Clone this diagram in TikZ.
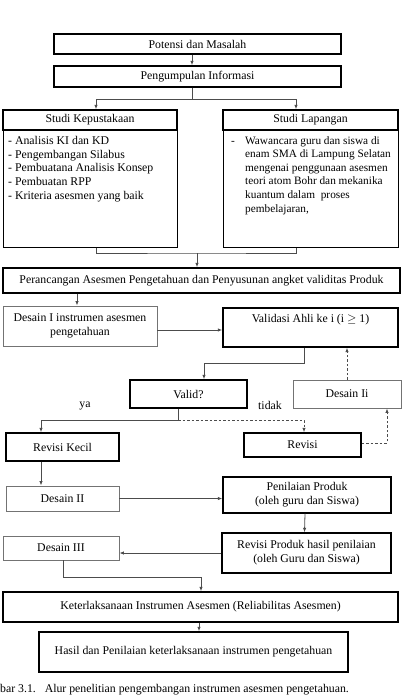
\documentclass[tikz,border=0pt]{standalone}
\usepackage{fontspec}
\setmainfont{Liberation Serif}
\usetikzlibrary{arrows.meta}
\begin{document}
\begin{tikzpicture}[x=1pt,y=-1pt,
  every node/.style={font=\fontsize{11.8}{13.8}\selectfont, inner sep=0pt},
  bx/.style={draw=black, line width=1.4pt, minimum width=#1, align=center},
  gbx/.style={draw=black!55, line width=0.9pt, minimum width=#1, align=center},
  ln/.style={draw=black!70, line width=0.8pt},
  arr/.style={ln, -{Latex[length=4.5pt,width=3.5pt]}},
  darr/.style={arr, dashed, dash pattern=on 2.5pt off 2pt},
]
\useasboundingbox (0,0) rectangle (403,696);
% boxes
\node[bx=287pt, minimum height=20pt] (pot) at (197.5,44) {Potensi dan Masalah};
\node[bx=287pt, minimum height=21pt] (peng) at (197.5,76.5) {Pengumpulan Informasi};
\node[bx=174pt, minimum height=20pt] (kepH) at (90,120) {Studi Kepustakaan};
\node[draw=black, line width=1pt, minimum width=174pt, minimum height=117pt] (kepB) at (90,188.5) {};
\node[bx=175pt, minimum height=20pt] (lapH) at (310.5,120) {Studi Lapangan};
\node[draw=black, line width=1pt, minimum width=175pt, minimum height=117pt] (lapB) at (310.5,188.5) {};
\node[anchor=north west, align=left] (kepT) at (8,136) {- Analisis KI dan KD\\- Pengembangan Silabus\\- Pembuatana Analisis Konsep\\- Pembuatan RPP\\- Kriteria asesmen yang baik};
\node[anchor=north west, font=\fontsize{11.3}{13.6}\selectfont] (lapD) at (231,136) {\vphantom{Wd}-};
\node[anchor=north west, align=left, font=\fontsize{11.3}{13.6}\selectfont] (lapT) at (245,136) {Wawancara guru dan siswa di\\enam SMA di Lampung Selatan\\mengenai penggunaan asesmen\\teori atom Bohr dan mekanika\\kuantum dalam\ \ proses\\pembelajaran,};
\node[bx=397pt, minimum height=25pt] (peran) at (201.5,280.5) {Perancangan Asesmen Pengetahuan dan Penyusunan angket validitas Produk};
\node[gbx=154pt, minimum height=40pt] (des1) at (80,326) {Desain I instrumen asesmen\\pengetahuan};
\node[bx=175pt, minimum height=39pt] (valA) at (310.5,327.5) {};
\node (valAT) at (310.5,320) {Validasi Ahli ke i (i $\geq$ 1)};
\node[bx=117pt, minimum height=28pt] (valQ) at (188.5,394) {Valid?};
\node[gbx=108pt, minimum height=28pt] (desIi) at (347,394) {Desain Ii};
\node (ya) at (85,406) {ya};
\node (tidak) at (270,405) {tidak};
\node[bx=113pt, minimum height=28pt] (revK) at (62.5,447) {Revisi Kecil};
\node[bx=117pt, minimum height=24pt] (rev) at (302.5,445) {Revisi};
\node[gbx=113pt, minimum height=25pt] (des2) at (62.5,498.5) {Desain II};
\node[bx=168pt, minimum height=36pt] (pen) at (307,495) {Penilaian Produk\\(oleh guru dan Siswa)};
\node[bx=169pt, minimum height=40pt] (revP) at (306.5,553) {Revisi Produk hasil penilaian\\(oleh Guru dan Siswa)};
\node[gbx=116pt, minimum height=24pt] (des3) at (61,548) {Desain III};
\node[bx=395pt, minimum height=30pt] (ket) at (200.5,607) {Keterlaksanaan Instrumen Asesmen (Reliabilitas Asesmen)};
\node[bx=309pt, minimum height=40pt] (has) at (193.5,652) {Hasil dan Penilaian keterlaksanaan instrumen pengetahuan};
\node[anchor=base west] (cap) at (0,692) {bar 3.1.\ \ \ Alur penelitian pengembangan instrumen asesmen pengetahuan.};
% connectors
\draw[arr] ([xshift=-5.5pt]pot.south) -- ([xshift=-5.5pt]peng.north);
\coordinate (j1) at (192,99);
\draw[ln] (peng.south -| j1) -- (j1);
\draw[arr] (j1) -| ([xshift=6pt]kepH.north);
\draw[arr] (j1) -| ([xshift=-14.5pt]lapH.north);
\coordinate (j2) at (197,253);
\draw[ln] ([xshift=6pt]kepB.south) |- (j2) -| ([xshift=-14.5pt]lapB.south);
\draw[arr] (j2) -- (j2 |- peran.north);
\coordinate (j5) at (77,0);
\draw[arr] (peran.south -| j5) -- (des1.north -| j5);
\coordinate (j3) at (157,330);
\draw[arr] (des1.east |- j3) -- (valA.west |- j3);
\draw[arr] ([xshift=-6.5pt]valA.south) -- ++(0,16) -| ([xshift=15.5pt]valQ.north);
\draw[darr] (desIi.north) -- (desIi.north |- valA.south);
\coordinate (j4) at (178,420);
\draw[ln] (valQ.south -| j4) -- (j4);
\draw[arr] (j4) -| ([xshift=-21.5pt]revK.north);
\draw[darr] (j4) -| ([xshift=1.5pt]rev.north);
\draw[darr] ([yshift=2pt]rev.east) -| ([xshift=40pt]desIi.south);
\draw[arr] ([xshift=-21.5pt]revK.south) -- ([xshift=-21.5pt]des2.north);
\draw[arr] (des2.east) -- (des2.east -| pen.west);
\draw[arr] ([xshift=-2pt]pen.south) -- ([xshift=-2pt]revP.north);
\draw[arr] (revP.west) -- (revP.west -| des3.east);
\coordinate (j6) at (201,577);
\draw[arr] ([xshift=2pt]des3.south) |- (j6) -- (j6 |- ket.north);
\coordinate (j7) at (199,0);
\draw[arr] (ket.south -| j7) -- (has.north -| j7);
\end{tikzpicture}
\end{document}
